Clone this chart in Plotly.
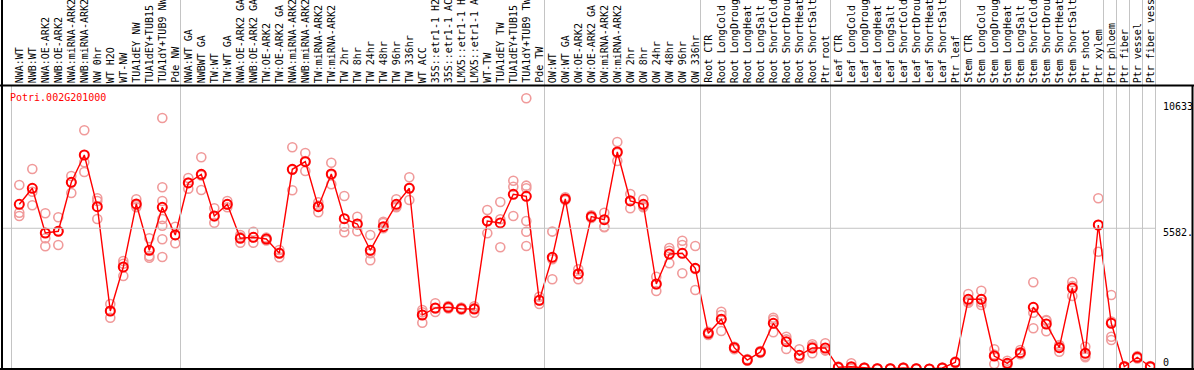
import plotly.graph_objects as go

W, H = 1194, 370

labels = [
    "NWA:WT", "NWB:WT", "NWA:OE-ARK2", "NWB:OE-ARK2", "NWA:miRNA-ARK2", "NWB:miRNA-ARK2",
    "NW 0hr", "WT H2O", "WT-NW", "TUA1dEY NW", "TUA1dEY+TUB15", "TUA1dY+TUB9 NW", "Pde NW",
    "NWA:WT GA", "NWBWT GA", "TW:WT", "TW:WT GA", "NWA:OE-ARK2 GA", "NWB:OE-ARK2 GA",
    "TW:OE-ARK2", "TW:OE-ARK2 GA", "NWA:miRNA-ARK2", "NWB:miRNA-ARK2", "TW:miRNA-ARK2",
    "TW:miRNA-ARK2", "TW 2hr", "TW 8hr", "TW 24hr", "TW 48hr", "TW 96hr", "TW 336hr",
    "WT ACC", "35S::etr1-1 H2", "35S::etr1-1 AC", "LMX5::etr1-1 H", "LMX5::etr1-1 A",
    "WT-TW", "TUA1dEY TW", "TUA1dEY+TUB15", "TUA1dY+TUB9 TW", "Pde TW",
    "OW:WT", "OW:WT GA", "OW:OE-ARK2", "OW:OE-ARK2 GA", "OW:miRNA-ARK2", "OW:miRNA-ARK2",
    "OW 2hr", "OW 8hr", "OW 24hr", "OW 48hr", "OW 96hr", "OW 336hr",
    "Root CTR", "Root LongCold", "Root LongDroug", "Root LongHeat", "Root LongSalt",
    "Root ShortCold", "Root ShortDrou", "Root ShortHeat", "Root ShortSalt", "Ptr root",
    "Leaf CTR", "Leaf LongCold", "Leaf LongDroug", "Leaf LongHeat", "Leaf LongSalt",
    "Leaf ShortCold", "Leaf ShortDrou", "Leaf ShortHeat", "Leaf ShortSalt", "Ptr leaf",
    "Stem CTR", "Stem LongCold", "Stem LongDroug", "Stem LongHeat", "Stem LongSalt",
    "Stem ShortCold", "Stem ShortDrou", "Stem ShortHeat", "Stem ShortSalt", "Ptr shoot",
    "Ptr xylem", "Ptr phloem", "Ptr fiber", "Ptr vessel", "Ptr fiber vess",
]

means = [
    6534, 7168, 5395, 5463, 7406, 8489, 6438, 2301, 4046, 6546, 4709, 6415, 5316,
    7379, 7724, 6070, 6534, 5185, 5225, 5157, 4590, 7922, 8224, 6438, 7736,
    5962, 5752, 4709, 5645, 6534, 7168, 2142, 2420, 2448, 2392, 2380,
    5871, 5792, 6930, 6851, 2725,
    4431, 6744, 3769, 6042, 5923, 8608, 6665, 6534, 3372, 4562, 4590, 3995,
    1416, 1972, 845, 357, 674, 1813, 1083, 543, 833, 833,
    67, 91, 40, 12, 12, 40, 12, 0, 40, 266,
    2765, 2765, 516, 226, 647, 2448, 1785, 845, 3213, 623, 5712,
    1813, 91, 464, 91,
]

replicates = [
    [7299, 6200, 6070], [7934, 7033, 6494], [6177, 5185, 4868], [6018, 5474, 4919],
    [7656, 7406, 6982], [9469, 8200, 7815], [6772, 6665, 5951], [2579, 2035, 2300],
    [4284, 4177, 3689], [6732, 6415, 6500], [5185, 4483, 4415],
    [9957, 7208, 6665, 5951, 5685, 5145, 4443], [5645, 4987, 5320],
    [7577, 7153, 7400], [8398, 7101, 7680], [6375, 5804, 6050], [6665, 6415, 6530],
    [5316, 5010, 5230], [5447, 5010, 5220], [5100, 5160, 5210], [4721, 4431, 4610],
    [8795, 7089, 7900], [8569, 7855, 8250], [6613, 6216, 6480], [8184, 7327, 7700],
    [6863, 5645, 5423], [6042, 5463, 5750], [5316, 4590, 4312], [5843, 5792, 5582],
    [6732, 6415, 6460], [7605, 6704, 7190], [2341, 1837, 2250], [2606, 2261, 2400],
    [2400, 2448, 2500], [2350, 2392, 2440], [2233, 2420, 2490],
    [6308, 5871, 5383], [6625, 5939, 4828], [7470, 7232, 6070],
    [10739, 7272, 7168, 5871, 5447, 4879], [2868, 2579, 2730],
    [5450, 4352, 3558], [6811, 6700, 6720], [3955, 3558, 3790], [5990, 6042, 6100],
    [6200, 5645, 5621], [9005, 8251, 8570], [6942, 6375, 6680], [6732, 6415, 6460],
    [3662, 3094, 3360], [4800, 4193, 4690], [5090, 4919, 3796], [4879, 3134, 3970],
    [1480, 1349, 1420], [2273, 1507, 2140], [884, 781, 870], [330, 357, 390],
    [640, 674, 710], [2035, 1456, 1950], [1281, 793, 1175], [781, 424, 430],
    [980, 623, 900], [1020, 740, 740],
    [40, 67, 95], [226, 40, 10], [20, 40, 60], [0, 12, 25], [0, 12, 25], [20, 40, 60],
    [0, 12, 25], [0, 0, 0], [20, 40, 60], [240, 266, 292],
    [2975, 2630, 2690], [3106, 2539, 2650], [781, 198, 570], [329, 200, 150],
    [754, 600, 590], [3439, 2233, 1615], [1944, 1496, 1915], [952, 686, 897],
    [3451, 2896, 3290], [885, 464, 520], [6772, 4653, 5711],
    [2936, 1281, 1150, 1885], [60, 91, 120], [420, 464, 510], [60, 91, 120],
]

gene_name = "Potri.002G201000"
axis_labels = ["10633", "5582.", "0"]
ref_value = 5582

# group separators (after these column indices)
group_breaks = [13, 41, 53, 63, 73, 84, 85, 86, 87, 88]

cols = list(range(1, len(labels) + 1))

# pixel geometry
X0, DX = 19.3, 13.0           # pixel of column 1, pixel per column
Y0, SY = 369.0, 0.02521        # pixel of value 0, pixel per unit
x_range = [1 + (0 - X0) / DX, 1 + (W - X0) / DX]
y_range = [(Y0 - H) / SY, Y0 / SY]


def py(p):
    return 1 - p / H


def px(p):
    return p / W


rx, ry = [], []
for c, reps in zip(cols, replicates):
    for v in reps:
        rx.append(c)
        ry.append(v)

fig = go.Figure()
fig.add_trace(go.Scatter(
    x=rx, y=ry, mode="markers",
    marker=dict(symbol="circle-open", size=9, color="#F09A9A", line=dict(width=1.6, color="#F09A9A")),
    hoverinfo="skip", showlegend=False,
))
fig.add_trace(go.Scatter(
    x=cols, y=means, mode="lines+markers",
    line=dict(color="#FF0000", width=1.4),
    marker=dict(symbol="circle-open", size=9, color="#FF0000", line=dict(width=2, color="#FF0000")),
    showlegend=False,
))

shapes = []
gray = "#C4C4C4"
# first group line (starts below header)
shapes.append(dict(type="line", xref="x", yref="paper", x0=0.4, x1=0.4, y0=py(369), y1=py(86),
                   line=dict(color=gray, width=1)))
for b in group_breaks:
    shapes.append(dict(type="line", xref="x", yref="paper", x0=b + 0.4, x1=b + 0.4,
                       y0=py(369), y1=1, line=dict(color=gray, width=1)))
# reference horizontal line
shapes.append(dict(type="line", xref="paper", yref="y", x0=px(2), x1=px(1156),
                   y0=ref_value, y1=ref_value, line=dict(color=gray, width=1)))
# black frame lines
shapes.append(dict(type="line", xref="paper", yref="paper", x0=0, x1=1, y0=py(85.5), y1=py(85.5),
                   line=dict(color="black", width=2)))
shapes.append(dict(type="line", xref="paper", yref="paper", x0=px(2), x1=px(2), y0=0, y1=1,
                   line=dict(color="black", width=2)))
shapes.append(dict(type="line", xref="paper", yref="paper", x0=px(1192.5), x1=px(1192.5), y0=0, y1=py(85.5),
                   line=dict(color="black", width=2)))
shapes.append(dict(type="line", xref="paper", yref="paper", x0=0, x1=1, y0=py(369), y1=py(369),
                   line=dict(color="black", width=2)))

font = "DejaVu Sans Mono"
annotations = []
for c, lab in zip(cols, labels):
    annotations.append(dict(x=c, xref="x", y=py(84), yref="paper", text=lab, textangle=-90,
                            showarrow=False, xanchor="center", yanchor="bottom", borderpad=0,
                            font=dict(family=font, size=10, color="black")))
annotations.append(dict(x=px(9), xref="paper", y=py(97), yref="paper", text=gene_name,
                        showarrow=False, xanchor="left", yanchor="middle", borderpad=0,
                        font=dict(family=font, size=10, color="#FF0000")))
for lab, ypix in zip(axis_labels, [106.7, 232.7, 362]):
    annotations.append(dict(x=px(1162), xref="paper", y=py(ypix), yref="paper", text=lab,
                            showarrow=False, xanchor="left", yanchor="middle", borderpad=0,
                            font=dict(family=font, size=10, color="black")))

fig.update_layout(
    width=W, height=H, margin=dict(l=0, r=0, t=0, b=0),
    paper_bgcolor="white", plot_bgcolor="white",
    xaxis=dict(range=x_range, visible=False, fixedrange=True),
    yaxis=dict(range=y_range, visible=False, fixedrange=True),
    shapes=shapes, annotations=annotations,
)
fig.write_html(
    "out.html",
    config={"displayModeBar": False},
    post_script="document.body.style.margin='0';document.body.style.overflow='hidden';",
)
